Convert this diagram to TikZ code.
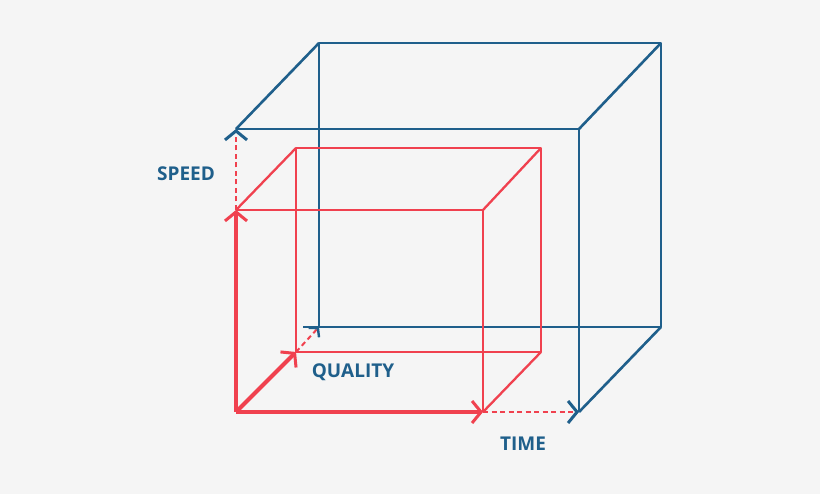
\documentclass[tikz,border=0pt]{standalone}
\usepackage{fontspec}
\setmainfont{Open Sans}
\usetikzlibrary{arrows.meta}
\definecolor{cb}{HTML}{1F5F8B}
\definecolor{cr}{HTML}{F0414F}
\definecolor{bg}{HTML}{F5F5F5}
\tikzset{x=1pt,y=-1pt,
 bl/.style={draw=cb,line width=2.6pt,line join=round},
 rl/.style={draw=cr,line width=2.3pt,line join=round},
 ax/.style={draw=cr,line width=4pt,line join=round},
 dsh/.style={draw=cr,line width=2pt,dash pattern=on 5pt off 3.5pt},
 tipb/.style={-{Straight Barb[length=9pt,width=22pt,line width=3pt]}},
 lab/.style={text=cb,font=\bfseries\fontsize{19}{22}\selectfont}}
\begin{document}
\begin{tikzpicture}
\fill[bg] (0,0) rectangle (820,494);
\useasboundingbox (0,0) rectangle (820,494);
% blue cube
\coordinate (B1) at (236,129); \coordinate (B2) at (579,129);
\coordinate (B3) at (579,412); \coordinate (B4) at (236,412);
\coordinate (C1) at (319,43); \coordinate (C2) at (661,43);
\coordinate (C3) at (661,327); \coordinate (C4) at (319,327);
\coordinate (C4s) at (303,327);
\draw[bl] (B1)--(B2)--(B3); \draw[bl] (C4)--(C1)--(C2)--(C3)--(C4s);
\draw[bl] (B1)--(C1); \draw[bl] (B2)--(C2); \draw[bl] (B3)--(C3);
% red cube
\coordinate (R1) at (236,210); \coordinate (R2) at (483,210);
\coordinate (R3) at (483,412); \coordinate (R4) at (236,412);
\coordinate (S1) at (296,148); \coordinate (S2) at (541,148);
\coordinate (S3) at (541,352); \coordinate (S4) at (296,352);
\draw[rl] (R1)--(R2)--(R3); \draw[rl] (S4)--(S1)--(S2)--(S3)--(S4);
\draw[rl] (R1)--(S1); \draw[rl] (R2)--(S2); \draw[rl] (R3)--(S3);
% axes
\draw[ax,tipb] (R4)--(R1);
\draw[ax,tipb] (R4)--(R3);
\draw[ax,tipb] (R4)--(S4);
% dashed extensions
\draw[dsh,-{Straight Barb[length=9pt,width=22pt,line width=3pt,color=cb]}] (R1)--(B1);
\draw[dsh,-{Straight Barb[length=9pt,width=22pt,line width=3pt,color=cb]}] (R3)--(B3);
\draw[dsh,-{Straight Barb[length=6pt,width=14pt,line width=2.4pt,color=cb]}] (S4)--(C4);
% labels
\node[lab] (sp) at (186,174) {SPEED};
\node[lab] (q) at (353,372) {QUALITY};
\node[lab] (t) at (523,444) {TIME};
\end{tikzpicture}
\end{document}
